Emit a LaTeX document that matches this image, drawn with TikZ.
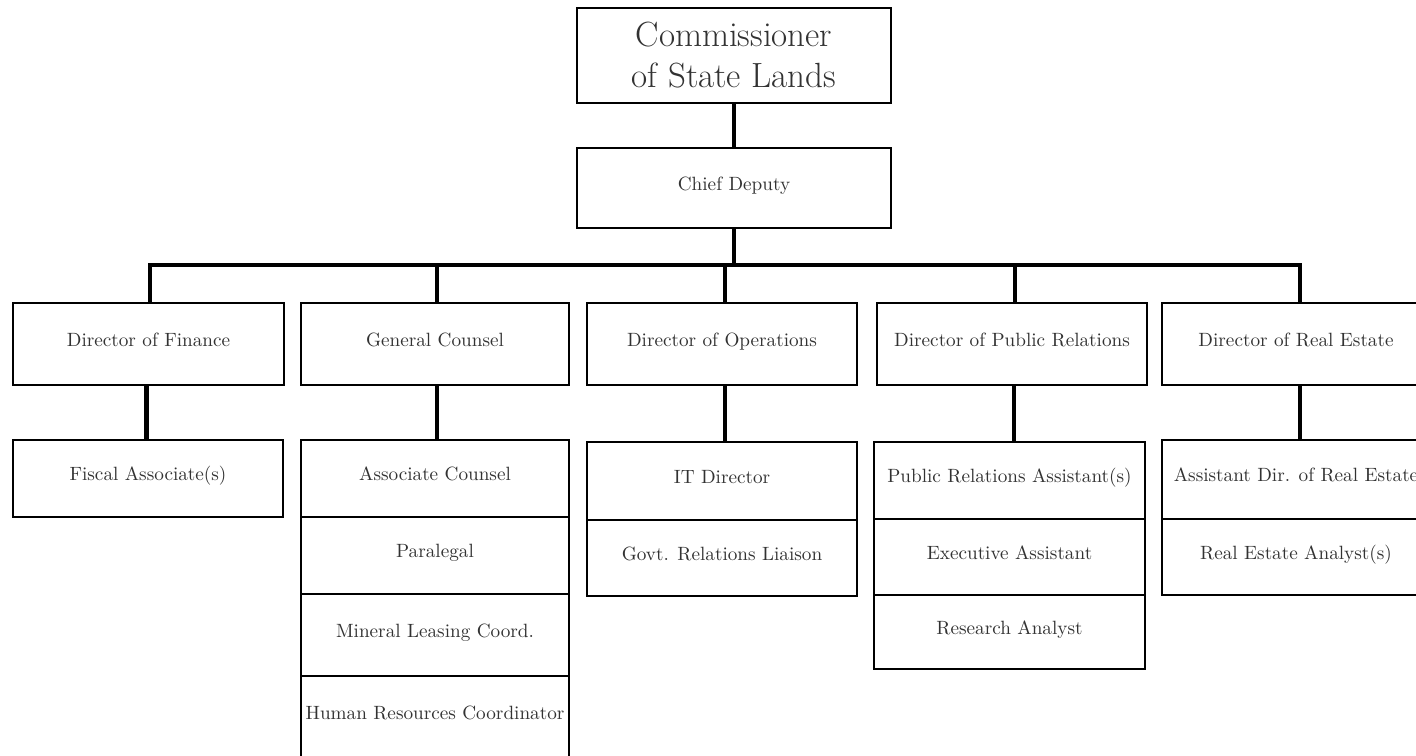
\documentclass[tikz,border=0pt]{standalone}
\definecolor{txt}{RGB}{50,50,50}
\begin{document}
\begin{tikzpicture}[x=0.5pt,y=-0.5pt,
  box/.style={draw=black,line width=1.35pt,fill=white,rectangle,inner sep=0pt,
    text=txt,font=\fontsize{9.6}{11}\selectfont,align=center,text height=6pt,text depth=4pt},
  conn/.style={draw=black,line width=2.2pt}]
\useasboundingbox (0,0) rectangle (1416,755);
% top
\node[box,minimum width=157pt,minimum height=47.5pt,font=\fontsize{17.5}{20.5}\selectfont,text height=,text depth=] (comm) at (734,55.5) {Commissioner\\of State Lands};
\node[box,minimum width=157pt,minimum height=40pt] (chief) at (734,188) {Chief Deputy};
% directors
\node[box,minimum width=135.5pt,minimum height=41pt] (fin) at (148.5,344) {Director of Finance};
\node[box,minimum width=134pt,minimum height=41pt] (gc) at (435,344) {General Counsel};
\node[box,minimum width=135pt,minimum height=41pt] (ops) at (722,344) {Director of Operations};
\node[box,minimum width=135pt,minimum height=41pt] (pr) at (1012,344) {Director of Public Relations};
\node[box,minimum width=134pt,minimum height=41pt] (re) at (1296,344) {Director of Real Estate};
% finance
\node[box,minimum width=135pt,minimum height=38.5pt] (fisc) at (148,478.5) {Fiscal Associate(s)};
% general counsel
\node[box,minimum width=134pt,minimum height=38.5pt] (assoc) at (435,478.5) {Associate Counsel};
\node[box,minimum width=134pt,minimum height=38.5pt] (para) at (435,555.5) {Paralegal};
\node[box,minimum width=134pt,minimum height=41pt] (mineral) at (435,635) {Mineral Leasing Coord.};
\node[box,minimum width=134pt,minimum height=41pt] (hr) at (435,717) {Human Resources Coordinator};
% operations
\node[box,minimum width=135pt,minimum height=39pt] (it) at (722,481) {IT Director};
\node[box,minimum width=135pt,minimum height=38pt] (govt) at (722,558) {Govt. Relations Liaison};
% public relations
\node[box,minimum width=135.5pt,minimum height=38.5pt] (prasst) at (1009.5,480.5) {Public Relations Assistant(s)};
\node[box,minimum width=135.5pt,minimum height=38pt] (exec) at (1009.5,557) {Executive Assistant};
\node[box,minimum width=135.5pt,minimum height=37pt] (research) at (1009.5,632) {Research Analyst};
% real estate
\node[box,minimum width=134pt,minimum height=39.5pt] (asstre) at (1296,479.5) {Assistant Dir. of Real Estate};
\node[box,minimum width=134pt,minimum height=38pt] (analyst) at (1296,557) {Real Estate Analyst(s)};
% connectors
\coordinate (bus) at (734,265);
\draw[conn] (comm.south) -- (chief.north);
\draw[conn] (chief.south) -- (bus);
\draw[conn] ([xshift=0.75pt]fin.north) |- (bus) -| ([xshift=2pt]re.north);
\draw[conn] ([xshift=1pt]gc.north) -- ([xshift=1pt]gc.north |- bus);
\draw[conn] ([xshift=1.5pt]ops.north) -- ([xshift=1.5pt]ops.north |- bus);
\draw[conn] ([xshift=1.5pt]pr.north) -- ([xshift=1.5pt]pr.north |- bus);
\draw[conn] ([xshift=-1pt]fin.south) -- ([xshift=-1pt]fin.south |- fisc.north);
\draw[conn] ([xshift=1pt]gc.south) -- ([xshift=1pt]gc.south |- assoc.north);
\draw[conn] ([xshift=1.5pt]ops.south) -- ([xshift=1.5pt]ops.south |- it.north);
\draw[conn] ([xshift=1pt]pr.south) -- ([xshift=1pt]pr.south |- prasst.north);
\draw[conn] ([xshift=2pt]re.south) -- ([xshift=2pt]re.south |- asstre.north);
\end{tikzpicture}
\end{document}
